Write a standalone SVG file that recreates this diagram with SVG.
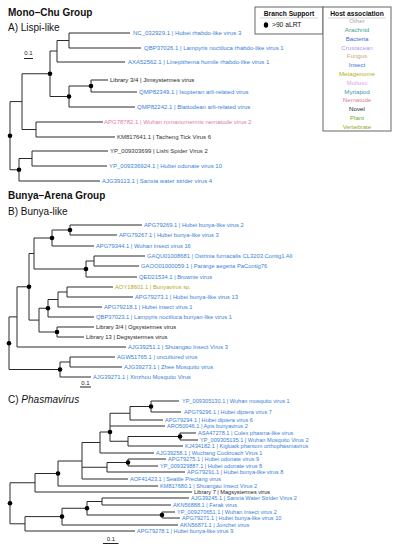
<svg xmlns="http://www.w3.org/2000/svg" width="395" height="550" viewBox="0 0 395 550">
<style>
text{font-family:"Liberation Sans",Arial,Helvetica,sans-serif}
.h{font-size:10px;font-weight:bold;fill:#111}
.s{font-size:10px;fill:#111}
.br{fill:none;stroke:#2a2a2a;stroke-width:1}
.dot{fill:#000}
.la{font-size:6px}
.lb{font-size:5.8px}
.lc{font-size:5.6px}
.ins{fill:#3a7fd5}
.nov{fill:#222}
.nem{fill:#e0809a}
.arc{fill:#333}
.met{fill:#b2ab1e}
.sc{font-size:6px;fill:#222;text-anchor:middle}
.bar{stroke:#222;stroke-width:1}
.lt{font-size:6.7px;font-weight:bold;fill:#111}
.li{font-size:6.2px;text-anchor:middle}
.box{fill:#fff;stroke:#666;stroke-width:1}
</style>

<!-- Headers -->
<text class="h" x="8" y="16">Mono–Chu Group</text>
<text class="s" x="8" y="31">A) Lispi-like</text>
<text class="h" x="8" y="199">Bunya–Arena Group</text>
<text class="s" x="8" y="215">B) Bunya-like</text>
<text class="s" x="8" y="403">C) <tspan font-style="italic">Phasmavirus</tspan></text>

<!-- Legend -->
<g id="legend-support">
<rect class="box" x="255" y="7" width="68" height="27"/>
<text class="lt" x="289" y="15.5" text-anchor="middle">Branch Support</text>
<line x1="260" y1="18" x2="318" y2="18" stroke="#bbb" stroke-width="0.6"/>
<ellipse class="dot" cx="266" cy="25" rx="2.2" ry="2.8"/>
<text x="272" y="27.3" font-size="6.7" fill="#111">&gt;90 aLRT</text>
</g>
<g id="legend-host">
<rect class="box" x="323" y="7" width="68" height="124"/>
<text class="lt" x="357" y="15.5" text-anchor="middle">Host association</text>
<line x1="328" y1="18" x2="386" y2="18" stroke="#bbb" stroke-width="0.6"/>
<text class="li" x="357" y="23.2" fill="#a8a8a8">Other</text>
<text class="li" x="357" y="32" fill="#3fa090">Arachnid</text>
<text class="li" x="357" y="40.8" fill="#3b6fd0">Bacteria</text>
<text class="li" x="357" y="49.6" fill="#b09ae8">Crustacean</text>
<text class="li" x="357" y="58.4" fill="#c8a878">Fungus</text>
<text class="li" x="357" y="67.2" fill="#3a78d8">Insect</text>
<text class="li" x="357" y="76" fill="#b8b020">Metagenome</text>
<text class="li" x="357" y="84.8" fill="#d8a8e8">Mollusc</text>
<text class="li" x="357" y="93.6" fill="#3a98b0">Myriapod</text>
<text class="li" x="357" y="102.4" fill="#e08098">Nematode</text>
<text class="li" x="357" y="111.2" fill="#222">Novel</text>
<text class="li" x="357" y="120" fill="#6ab030">Plant</text>
<text class="li" x="357" y="128.8" fill="#98a830">Vertebrate</text>
</g>

<!-- Connectors (branches) -->
<g id="connectors">
<path class="br" d="M69 33H130M69 48H141M57 62H125M91 80H108M91 92H137M69 107H135M36 122H103M36 137H115M32 151H108M32 166H107M19 181H100
M69 33V48M57 40.5H69M57 40.5V62M50 51H57M91 80V92M69 86H91M69 86V107M50 96.5H69M50 51V96.5M22 73.75H50M36 122V137M22 129.5H36M22 73.75V129.5M10 101.6H22M32 151V166M19 158.5H32M19 158.5V181M10 169.75H19M10 101.6V169.75"/>
<path class="br" d="M70 225H142M70 235H117M52 246H94M94 256H145M94 266H139M86 277H137M67 287H113M67 297H133M58 307H102M48 317H94M57 327H94M57 337H84M17 347H126M70 357H115M70 367H122M60 377H91
M70 225V235M52 230H70M52 230V246M34 238H52M94 256V266M86 261H94M86 261V277M34 269H86M34 238V269M29 253.5H34
M67 287V297M58 292H67M58 292V307M48 299.5H58M48 299.5V317M39 308.25H48M57 327V337M39 332H57M39 308.25V332M29 320.1H39M29 253.5V320.1M17 286.8H29M17 286.8V347M9 316.9H17
M70 357V367M60 362H70M60 362V377M9 369.5H60M9 316.9V369.5"/>
<path class="br" d="M151 401H179M151 412H181M130 420H163M110 426H165M180 433H196M180 440H198M128 446H183M100 453H154M128 459H166M128 466H158M107 472H185M82 479H128M58 486H158M35 492H192M102 498H189M102 505H171M162 512H175M162 518H180M62 525H178M25 531H135
M151 401V412M130 406.5H151M130 406.5V420M110 413.25H130M180 433V440M128 436.5H180M128 436.5V446M110 441.25H128M110 413.25V441.25M100 432H110M100 432V453M82 442.5H100
M128 459V466M107 462.5H128M107 462.5V472M82 467.25H107M82 442.5V479M58 461H82M58 461V486M35 473.5H58M35 473.5V492M10 482.75H35
M102 498V505M87 501.5H102M162 512V518M87 515H162M87 501.5V515M62 508.25H87M62 508.25V525M25 516.6H62M25 516.6V531M10 523.8H25M10 482.75V523.8"/>
</g>

<!-- Support dots -->
<g id="support">
<circle class="dot" cx="50" cy="73.75" r="2.3"/>
<circle class="dot" cx="91" cy="86" r="2.3"/>
<circle class="dot" cx="69" cy="96.5" r="2.3"/>
<circle class="dot" cx="10" cy="135.7" r="2.3"/>
<circle class="dot" cx="19" cy="169.75" r="2.3"/>
<circle class="dot" cx="70" cy="230" r="2.3"/>
<circle class="dot" cx="52" cy="238" r="2.3"/>
<circle class="dot" cx="86" cy="269" r="2.3"/>
<circle class="dot" cx="29" cy="286.8" r="2.3"/>
<circle class="dot" cx="48" cy="308.25" r="2.3"/>
<circle class="dot" cx="57" cy="332" r="2.3"/>
<circle class="dot" cx="9" cy="343.2" r="2.3"/>
<circle class="dot" cx="60" cy="369.5" r="2.3"/>
<circle class="dot" cx="151" cy="406.5" r="2.3"/>
<circle class="dot" cx="110" cy="432" r="2.3"/>
<circle class="dot" cx="180" cy="436.5" r="2.3"/>
<circle class="dot" cx="128" cy="462.5" r="2.3"/>
<circle class="dot" cx="58" cy="473.5" r="2.3"/>
<circle class="dot" cx="10" cy="503.3" r="2.3"/>
<circle class="dot" cx="87" cy="508.25" r="2.3"/>
<circle class="dot" cx="162" cy="515" r="2.3"/>
<circle class="dot" cx="62" cy="516.6" r="2.3"/>
</g>

<!-- Scale bars -->
<g id="scale-a"><text class="sc" x="28.5" y="55">0.1</text><line class="bar" x1="24" y1="58.5" x2="33" y2="58.5"/></g>
<g id="scale-b"><text class="sc" x="85.5" y="384.5">0.1</text><line class="bar" x1="80" y1="387" x2="91" y2="387"/></g>
<g id="scale-c"><text class="sc" x="111" y="540.5">0.1</text><line class="bar" x1="103" y1="543.5" x2="118.5" y2="543.5"/></g>

<!-- Tree A leaves -->
<g id="tree-a" class="la">
<g id="a1"><text class="ins" x="133" y="35">NC_032929.1 | Hubei rhabdo-like virus 3</text></g>
<g id="a2"><text class="ins" x="144" y="50">QBP37026.1 | Lampyris noctiluca rhabdo-like virus 1</text></g>
<g id="a3"><text class="ins" x="128" y="64">AXA52562.1 | Linepithema humile rhabdo-like virus 1</text></g>
<g id="a4"><text class="nov" x="110" y="82">Library 3/4 | Jimsystermes virus</text></g>
<g id="a5"><text class="ins" x="139" y="94">QMP82349.1 | Isopteran arli-related virus</text></g>
<g id="a6"><text class="ins" x="137" y="109">QMP82242.1 | Blattodean arli-related virus</text></g>
<g id="a7"><text class="nem" x="104" y="124">APG78782.1 | Wuhan romanomermis nematode virus 2</text></g>
<g id="a8"><text class="arc" x="117" y="139">KM817641.1 | Tacheng Tick Virus 6</text></g>
<g id="a9"><text class="arc" x="110" y="153">YP_009303699 | Lishi Spider Virus 2</text></g>
<g id="a10"><text class="ins" x="109" y="168">YP_009336924.1 | Hubei odonate virus 10</text></g>
<g id="a11"><text class="ins" x="102" y="183">AJG39113.1 | Sanxia water strider virus 4</text></g>
</g>

<!-- Tree B leaves -->
<g id="tree-b" class="lb">
<g id="b1"><text class="ins" x="144" y="227">APG79269.1 | Hubei bunya-like virus 2</text></g>
<g id="b2"><text class="ins" x="119" y="237">APG79267.1 | Hubei bunya-like virus 3</text></g>
<g id="b3"><text class="ins" x="96" y="248">APG79344.1 | Wuhan insect virus 16</text></g>
<g id="b4"><text class="ins" x="147" y="258">GAQU01008681 | Ostrinia furnacalis CL3203.Contig1 All</text></g>
<g id="b5"><text class="ins" x="141" y="268">GAOO01000059.1 | Pararge aegeria PaContig76</text></g>
<g id="b6"><text class="ins" x="139" y="279">QED21534.1 | Brownie virus</text></g>
<g id="b7"><text class="met" x="115" y="289">AOY18601.1 | Bunyavirus sp.</text></g>
<g id="b8"><text class="ins" x="135" y="299">APG79273.1 | Hubei bunya-like virus 13</text></g>
<g id="b9"><text class="ins" x="104" y="309">APG79218.1 | Hubei insect virus 1</text></g>
<g id="b10"><text class="ins" x="96" y="319">QBP37023.1 | Lampyris noctiluca bunyan-like virus 1</text></g>
<g id="b11"><text class="nov" x="96" y="329">Library 3/4 | Ogsystermes virus</text></g>
<g id="b12"><text class="nov" x="86" y="339">Library 13 | Degsystermes virus</text></g>
<g id="b13"><text class="ins" x="128" y="349">AJG39251.1 | Shuangao Insect Virus 3</text></g>
<g id="b14"><text class="ins" x="117" y="359">AGW51765.1 | uncultured virus</text></g>
<g id="b15"><text class="ins" x="124" y="369">AJG39273.1 | Zhee Mosquito virus</text></g>
<g id="b16"><text class="ins" x="93" y="379">AJG39271.1 | Xinzhou Mosquito Virus</text></g>
</g>

<!-- Tree C leaves -->
<g id="tree-c" class="lc">
<g id="c1"><text class="ins" x="182" y="403">YP_009305130.1 | Wuhan mosquito virus 1</text></g>
<g id="c2"><text class="ins" x="184" y="414">APG79296.1 | Hubei diptera virus 7</text></g>
<g id="c3"><text class="ins" x="165" y="422">APG79294.1 | Hubei diptera virus 6</text></g>
<g id="c4"><text class="ins" x="167" y="428">ARO50046.1 | Apis bunyavirus 2</text></g>
<g id="c5"><text class="ins" x="198" y="435">ASA47278.1 | Culex phasma-like virus</text></g>
<g id="c6"><text class="ins" x="200" y="442">YP_009305135.1 | Wuhan Mosquito Virus 2</text></g>
<g id="c7"><text class="ins" x="185" y="448">KJ434182.1 | Kigluaik phantom orthophasmavirus</text></g>
<g id="c8"><text class="ins" x="156" y="455">AJG39258.1 | Wuchang Cockroach Virus 1</text></g>
<g id="c9"><text class="ins" x="168" y="461">APG79275.1 | Hubei odonate virus 9</text></g>
<g id="c10"><text class="ins" x="160" y="468">YP_009329887.1 | Hubei odonate virus 8</text></g>
<g id="c11"><text class="ins" x="187" y="474">APG79291.1 | Hubei bunya-like virus 8</text></g>
<g id="c12"><text class="ins" x="130" y="481">AOF41423.1 | Seattle Prectang virus</text></g>
<g id="c13"><text class="ins" x="160" y="488">KM817680.1 | Shuangao Insect Virus 2</text></g>
<g id="c14"><text class="nov" x="194" y="494">Library 7 | Magsystermes virus</text></g>
<g id="c15"><text class="ins" x="191" y="500">AJG39245.1 | Sanxia Water Strider Virus 2</text></g>
<g id="c16"><text class="ins" x="173" y="507">AKN56888.1 | Ferak virus</text></g>
<g id="c17"><text class="ins" x="177" y="514">YP_009270651.1 | Wuhan Insect virus 2</text></g>
<g id="c18"><text class="ins" x="182" y="520">APG79271.1 | Hubei bunya-like virus 10</text></g>
<g id="c19"><text class="ins" x="180" y="527">AKN56871.1 | Jonchet virus</text></g>
<g id="c20"><text class="ins" x="137" y="533">APG79278.1 | Hubei bunya-like virus 9</text></g>
</g>
</svg>
